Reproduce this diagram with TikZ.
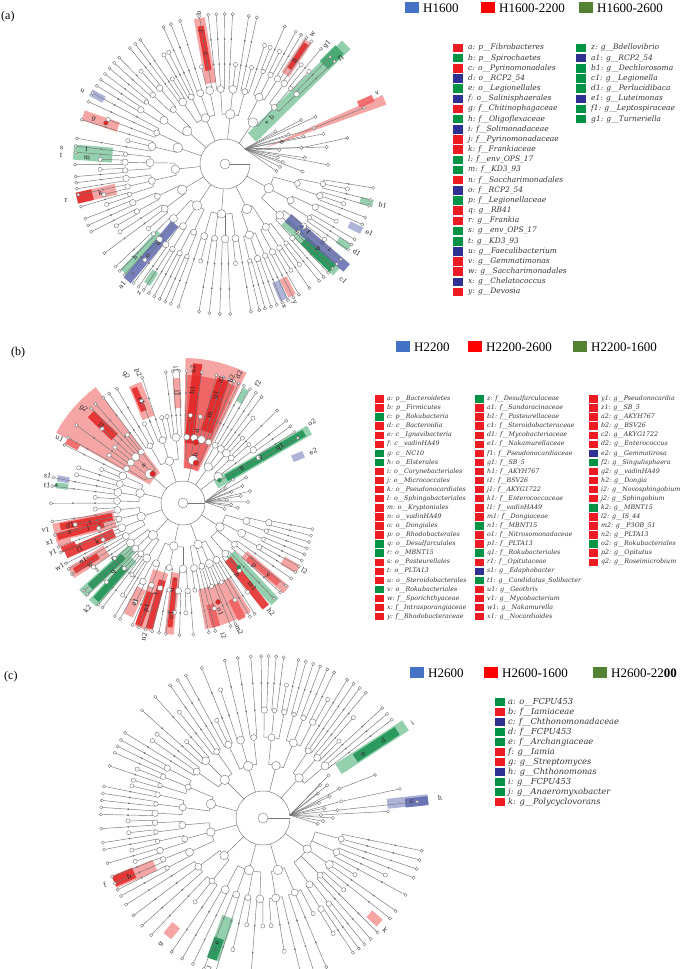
\documentclass[tikz,border=0pt]{standalone}
\usepackage{fontspec}
\setmainfont{Liberation Serif}
\newfontfamily\legf{DejaVu Serif}
\definecolor{brgray}{RGB}{118,118,118}
\definecolor{lred}{RGB}{245,150,150}
\definecolor{mred}{RGB}{240,90,90}
\definecolor{dred}{RGB}{228,35,35}
\definecolor{lgreen}{RGB}{130,200,160}
\definecolor{mgreen}{RGB}{60,165,105}
\definecolor{dgreen}{RGB}{25,145,80}
\definecolor{lblue}{RGB}{160,168,210}
\definecolor{mblue}{RGB}{95,105,175}
\definecolor{sqR}{RGB}{237,28,36}
\definecolor{sqG}{RGB}{0,146,69}
\definecolor{sqB}{RGB}{46,49,146}
\definecolor{hblue}{RGB}{68,114,196}
\definecolor{hred}{RGB}{255,0,0}
\definecolor{hgreen}{RGB}{84,130,53}
\tikzset{
  br/.style={draw=brgray, line width=0.45pt},
  cn/.style={circle, draw=brgray, fill=white, inner sep=0pt, line width=0.4pt},
  cdot/.style={circle, fill=brgray, inner sep=0pt},
  sig/.style={circle, draw=brgray, inner sep=0pt, line width=0.3pt},
  lab/.style={font=\legf\fontsize{6.5}{6.5}\selectfont, inner sep=0pt, text=black!85},
  plab/.style={font=\fontsize{12}{12}\selectfont, inner sep=0pt, anchor=west},
  htext/.style={font=\fontsize{13}{13}\selectfont, inner sep=0pt, anchor=west},
}
% recursive cladogram node: level, angle a, angle b, seed
\newcommand\cnode[4]{%
\begingroup
\pgfmathtruncatemacro\Lv{#1}%
\pgfmathsetmacro\Aa{#2}%
\pgfmathsetmacro\Ab{#3}%
\pgfmathtruncatemacro\Sd{#4}%
\pgfmathsetmacro\Am{(\Aa+\Ab)/2}%
\pgfmathsetmacro\Rr{\Lv*\DR}%
\pgfmathtruncatemacro\Cc{floor((\Ab-\Aa)/\DL)}%
\pgfmathtruncatemacro\Rm{\ML-\Lv}%
\ifnum\Rm<1 \def\Nc{0}%
\else
  \ifnum\Cc<2
    \pgfmathtruncatemacro\Nc{(mod(\Sd,5)==0 && \Lv>2) ? 0 : 1}%
  \else
    \pgfmathtruncatemacro\Nc{max(1,min(\Cc,round(pow(\Cc,1/max(1,\Rm-0.8))*(0.95+0.09*mod(\Sd,10)))))}%
  \fi
\fi
\ifnum\Nc>0
  \pgfmathsetmacro\Cw{(\Ab-\Aa)/\Nc}%
  \pgfmathsetmacro\Rn{\Rr+\DR}%
  \ifnum\Nc>1
    \pgfmathsetmacro\Fa{\Aa+\Cw/2}%
    \pgfmathsetmacro\La{\Ab-\Cw/2}%
    \draw[br] (\Fa:\Rr) arc[start angle=\Fa, end angle=\La, radius=\Rr];%
  \fi
  \foreach \ii in {1,...,\Nc}{%
    \pgfmathsetmacro\Ca{\Aa+(\ii-0.5)*\Cw}%
    \draw[br] (\Ca:\Rr) -- (\Ca:\Rn);%
    \pgfmathsetmacro\Xa{\Aa+(\ii-1)*\Cw}%
    \pgfmathsetmacro\Xb{\Aa+\ii*\Cw}%
    \pgfmathtruncatemacro\Xs{mod(\Sd*13+\ii*29+\Lv*17+7,997)}%
    \pgfmathtruncatemacro\Xl{\Lv+1}%
    \edef\next{\noexpand\cnode{\Xl}{\Xa}{\Xb}{\Xs}}\next
  }%
\fi
\ifnum\Nc=1
  \node[cdot, minimum size=2pt] at (\Am:\Rr) {};%
\else
  \ifnum\Nc=0
    \ifnum\Lv=\ML \def\Cd{3.2}\else\def\Cd{4.2}\fi
  \else
    \pgfmathsetmacro\Cd{max(3.5,10.5-1.5*\Lv+mod(\Sd,3))}%
  \fi
  \node[cn, minimum size=\Cd pt] at (\Am:\Rr) {};%
\fi
\endgroup}
\newcommand\band[5]{\fill[#5,rotate=#1,fill opacity=0.85] (#2,-#4/2) rectangle (#3,#4/2);}
\newcommand\sector[5]{\fill[#5,fill opacity=0.85] (#1:#3) arc[start angle=#1,end angle=#2,radius=#3] -- (#2:#4) arc[start angle=#2,end angle=#1,radius=#4] -- cycle;}
\newcommand\lbl[3]{\pgfmathsetmacro\lrot{cos(#1)<0 ? #1+180 : #1}\node[lab,rotate=\lrot] at (#1:#2) {#3};}
\newcommand\sigdot[3]{\node[sig, fill=#3, minimum size=#2pt] at (#1) {};}
% fan: origin angle, list angle/r/extension
\newcommand\fan[2]{%
  \foreach \fa/\fr/\fe in {#2}{%
    \draw[br] (#1:\DR) -- (\fa:\fr);
    \ifdim\fe pt>\fr pt
      \draw[br] (\fa:\fr) -- (\fa:\fe);
      \node[cn, minimum size=3pt] at (\fa:\fe) {};
    \fi
    \node[cn, minimum size=3.4pt] at (\fa:\fr) {};
  }}
% tree: fan origin angle, phyla list, fan list
\newcommand\tree[3]{%
  \draw[br] (0,0) -- (0:\DR);
  \draw[br] (#1:\DR) arc[start angle=#1, end angle=360, radius=\DR];
  \foreach \pa/\pb/\ps in {#2}{%
    \pgfmathsetmacro\pm{(\pa+\pb)/2}%
    \draw[br] (\pm:\DR) -- (\pm:2*\DR);
    \cnode{2}{\pa}{\pb}{\ps}%
  }
  \fan{#1}{#3}
  \node[cn, minimum size=10pt] (root) at (0,0) {};
}
% legend column: x, ytop, spacing, fontsize, square width, gap, list
\newcommand\legcol[7]{%
  \foreach \c/\t [count=\k from 0] in {#7}{%
    \pgfmathsetmacro\yy{#2-\k*#3}%
    \fill[sq\c] (#1,\yy-#3/2+0.8) rectangle ++(#5,#3-1.6);
    \node[anchor=west, inner sep=0pt, text=black!80, font=\legf\itshape\fontsize{#4}{#4}\selectfont] at (#1+#5+#6,\yy) {\t};
  }}
\newcommand\hdr[4]{\fill[#3] (#1,#2-5.5) rectangle ++(14,11);
  \node[htext] at (#1+18,#2) {#4};}

\begin{document}
\begin{tikzpicture}[x=1pt,y=1pt]
\fill[white] (0,0) rectangle (685,969);
\useasboundingbox (0,0) rectangle (685,969);

%================ PANEL A ================
\node[plab] (pa) at (1,952) {(a)};
\hdr{405}{961}{hblue}{H1600}
\hdr{481}{961}{hred}{H1600-2200}
\hdr{579}{961}{hgreen}{H1600-2600}
\legcol{453}{921}{10.17}{7.5}{10}{5}{R/{a: p\_\_Fibrobacteres}, G/{b: p\_\_Spirochaetes}, R/{c: o\_\_Pyrinomonadales}, B/{d: o\_\_RCP2\_54}, G/{e: o\_\_Legionellales}, B/{f: o\_\_Salinisphaerales}, R/{g: f\_\_Chitinophagaceae}, G/{h: f\_\_Oligoflexaceae}, B/{i: f\_\_Solimonadaceae}, R/{j: f\_\_Pyrinomonadaceae}, R/{k: f\_\_Frankiaceae}, G/{l: f\_\_env\_OPS\_17}, G/{m: f\_\_KD3\_93}, R/{n: f\_\_Saccharimonadales}, B/{o: f\_\_RCP2\_54}, G/{p: f\_\_Legionellaceae}, R/{q: g\_\_RB41}, R/{r: g\_\_Frankia}, G/{s: g\_\_env\_OPS\_17}, G/{t: g\_\_KD3\_93}, B/{u: g\_\_Faecalibacterium}, R/{v: g\_\_Gemmatimonas}, R/{w: g\_\_Saccharimonadales}, B/{x: g\_\_Chelatococcus}, R/{y: g\_\_Devosia}}
\legcol{576}{921}{10.17}{7.5}{10}{5}{G/{z: g\_\_Bdellovibrio}, B/{a1: g\_\_RCP2\_54}, G/{b1: g\_\_Dechlorosoma}, G/{c1: g\_\_Legionella}, G/{d1: g\_\_Perlucidibaca}, B/{e1: g\_\_Luteimonas}, G/{f1: g\_\_Leptospiraceae}, G/{g1: g\_\_Turneriella}}

\begin{scope}[shift={(225,805)}]
\def\DR{25}\def\DL{2.3}\def\ML{6}
\band{100}{82}{148}{11}{lred}
\band{100}{95}{140}{6}{dred}
\band{56}{108}{148}{9}{lred}
\band{56}{115}{145}{5}{dred}
\band{44.5}{38}{170}{12}{lgreen}
\band{45}{140}{162}{12}{mgreen}
\fill[lred,fill opacity=0.85] (22:41) -- (20.2:172) -- (23.6:172) -- cycle;
\band{24}{146}{162}{7}{mred}
\band{152}{137}{152}{7}{lblue}
\band{161}{113}{150}{10}{lred}
\band{175.5}{113}{152}{15}{lgreen}
\band{193}{112}{152}{11}{lred}
\band{193}{136}{152}{11}{dred}
\band{227}{95}{148}{9}{lgreen}
\band{230}{78}{152}{9}{mblue}
\band{237}{128}{143}{7}{lgreen}
\band{293.4}{128}{148}{8}{lblue}
\band{297}{128}{148}{8}{lred}
\band{316}{83}{155}{10}{lgreen}
\band{316}{110}{150}{10}{dgreen}
\band{319.5}{83}{160}{10}{mblue}
\band{326}{136}{150}{7}{lgreen}
\band{334}{138}{152}{7}{lblue}
\band{345}{140}{153}{7}{lgreen}
\tree{37}{42/70/11, 70/98/23, 98/128/37, 128/150/41, 150/172/53, 172/200/61, 200/222/71, 222/250/83, 250/282/97, 282/310/101, 310/352/113}{-8/52/0, -5.5/78/0, -3/55/0, -0.5/103/0, 2/58/0, 4.5/80/0, 7/53/0, 9.5/103/0, 12/78/125, 14.5/56/0, 17/103/0, 19.5/83/0, 22/96/150, 25/70/0, 27.5/102/0, 30/88/0, 33/60/0}
\sigdot{161:126}{4.5}{dred}
\sigdot{320.7:99}{4}{mblue}
\sigdot{321:125}{4}{mblue}
\sigdot{230:143}{3}{mblue}
\sigdot{45:59}{3}{dgreen}
\lbl{100}{153}{q}\lbl{100}{135}{j}\lbl{100}{112}{c}
\lbl{56}{157}{w}\lbl{56}{125}{n}
\lbl{49.5}{157}{g1}\lbl{42.5}{157}{f1}\lbl{45}{66}{b}
\lbl{21}{61}{a}\lbl{25}{168}{v}
\lbl{153}{160}{u}\lbl{161}{139}{g}
\lbl{174}{139}{l}\lbl{177.5}{138}{m}\lbl{174.4}{164}{s}\lbl{177}{164}{t}
\lbl{193}{128}{k}\lbl{192.8}{163}{r}
\lbl{226}{130}{h}\lbl{230}{120}{o}\lbl{230}{104}{d}\lbl{229.7}{159}{a1}
\lbl{236.4}{155}{z}
\lbl{292.6}{154}{x}\lbl{296.5}{155}{y}
\lbl{320.5}{108}{f}\lbl{321}{135}{i}\lbl{316.5}{100}{e}\lbl{317.5}{126}{p}
\lbl{315.5}{166}{c1}\lbl{326}{159}{d1}\lbl{334.5}{160}{e1}\lbl{345.5}{163}{b1}
\end{scope}

%================ PANEL B ================
\node[plab] (pb) at (11,616) {(b)};
\hdr{396}{622}{hblue}{H2200}
\hdr{468}{622}{hred}{H2200-2600}
\hdr{573}{622}{hgreen}{H2200-1600}
\legcol{375}{570}{9.07}{6.3}{9}{3}{R/{a: p\_\_Bacteroidetes}, R/{b: p\_\_Firmicutes}, G/{c: p\_\_Rokubacteria}, R/{d: c\_\_Bacteroidia}, R/{e: c\_\_Ignavibacteria}, R/{f: c\_\_vadinHA49}, G/{g: c\_\_NC10}, G/{h: o\_\_Elsterales}, R/{i: o\_\_Corynebacteriales}, R/{j: o\_\_Micrococcales}, R/{k: o\_\_Pseudonocardiales}, R/{l: o\_\_Sphingobacteriales}, R/{m: o\_\_Kryptoniales}, R/{n: o\_\_vadinHA49}, R/{o: o\_\_Dongiales}, R/{p: o\_\_Rhodobacterales}, G/{q: o\_\_Desulfarculales}, G/{r: o\_\_MBNT15}, R/{s: o\_\_Pasteurellales}, R/{t: o\_\_PLTA13}, R/{u: o\_\_Steroidobacterales}, G/{v: o\_\_Rokubacteriales}, R/{w: f\_\_Sporichthyaceae}, R/{x: f\_\_Intrasporangiaceae}, R/{y: f\_\_Rhodobacteraceae}}
\legcol{475}{570}{9.07}{6.3}{9}{3}{G/{z: f\_\_Desulfarculaceae}, R/{a1: f\_\_Sandaracinaceae}, R/{b1: f\_\_Pasteurellaceae}, R/{c1: f\_\_Steroidobacteraceae}, R/{d1: f\_\_Mycobacteriaceae}, R/{e1: f\_\_Nakamurellaceae}, R/{f1: f\_\_Pseudonocardiaceae}, R/{g1: f\_\_SB\_5}, R/{h1: f\_\_AKYH767}, R/{i1: f\_\_BSV26}, R/{j1: f\_\_AKYG1722}, R/{k1: f\_\_Enterococcaceae}, R/{l1: f\_\_vadinHA49}, R/{m1: f\_\_Dongiaceae}, G/{n1: f\_\_MBNT15}, R/{o1: f\_\_Nitrosomonadaceae}, R/{p1: f\_\_PLTA13}, G/{q1: f\_\_Rokubacteriales}, R/{r1: f\_\_Opitutaceae}, B/{s1: g\_\_Edaphobacter}, G/{t1: g\_\_Candidatus\_Solibacter}, R/{u1: g\_\_Geothrix}, R/{v1: g\_\_Mycobacterium}, R/{w1: g\_\_Nakamurella}, R/{x1: g\_\_Nocardioides}}
\legcol{589}{570}{9.07}{6.3}{9}{3}{R/{y1: g\_\_Pseudonocardia}, R/{z1: g\_\_SB\_5}, R/{a2: g\_\_AKYH767}, R/{b2: g\_\_BSV26}, R/{c2: g\_\_AKYG1722}, R/{d2: g\_\_Enterococcus}, B/{e2: g\_\_Gemmatirosa}, G/{f2: g\_\_Singulisphaera}, R/{g2: g\_\_vadinHA49}, R/{h2: g\_\_Dongia}, R/{i2: g\_\_Novosphingobium}, R/{j2: g\_\_Sphingobium}, G/{k2: g\_\_MBNT15}, R/{l2: g\_\_IS\_44}, R/{m2: g\_\_P3OB\_51}, R/{n2: g\_\_PLTA13}, G/{o2: g\_\_Rokubacteriales}, R/{p2: g\_\_Opitutus}, R/{q2: g\_\_Roseimicrobium}}

\begin{scope}[shift={(183,466)}]
\def\DR{22}\def\DL{2.15}\def\ML{6}
\sector{127}{151}{38}{145}{lred}
\band{136}{95}{128}{9}{dred}
\band{152}{118}{132}{6}{mred}
\sector{64}{89}{35}{145}{lred}
\sector{66}{88}{35}{128}{mred}
\band{84}{60}{140}{9}{dred}
\band{72}{75}{130}{12}{dred}
\band{30}{38}{146}{10}{lgreen}
\band{30}{50}{140}{7}{dgreen}
\band{22}{118}{130}{7}{lblue}
\band{61}{115}{130}{6}{lgreen}
\band{93}{95}{125}{7}{lred}
\band{112}{92}{128}{13}{lred}
\band{113}{100}{125}{6}{dred}
\band{168.8}{116}{128}{6}{lblue}
\band{172}{116}{128}{6}{lgreen}
\band{193}{70}{132}{18}{lred}
\band{191}{72}{125}{7}{dred}
\band{195}{82}{130}{7}{dred}
\band{198}{118}{132}{6}{lred}
\band{201}{115}{130}{6}{dred}
\band{203.5}{75}{128}{9}{dred}
\band{212}{90}{132}{12}{lred}
\band{212}{100}{128}{6}{dred}
\band{222}{65}{135}{10}{lgreen}
\band{222}{80}{125}{7}{dgreen}
\band{228}{75}{135}{10}{lgreen}
\band{228}{88}{130}{7}{dgreen}
\band{244}{95}{125}{10}{lred}
\band{252}{72}{132}{16}{lred}
\band{250}{95}{130}{7}{dred}
\band{255}{80}{130}{7}{dred}
\band{264}{70}{132}{9}{lred}
\band{264}{75}{125}{5}{dred}
\sector{280}{302}{88}{128}{lred}
\band{285}{105}{128}{8}{mred}
\band{297}{108}{130}{8}{mred}
\band{313}{70}{135}{10}{lgreen}
\band{308.5}{72}{133}{8}{dred}
\band{320}{80}{135}{9}{lred}
\band{320}{85}{125}{6}{mred}
\band{330}{115}{133}{9}{lred}
\tree{3}{28/46/7, 46/64/19, 64/90/29, 90/126/43, 126/152/59, 152/182/67, 182/214/79, 214/240/89, 240/276/103, 276/304/109, 304/350/127}{-8/42/0, -5/55/0, -2/48/0, 1/65/0, 4/44/0, 7/58/0, 10/68/0, 13/50/0, 16/62/0, 19/45/0, 22/68/0, 25/55/0}
\sigdot{136:42}{6}{dred}
\sigdot{78:62}{6}{dred}
\sigdot{72:42}{6}{dred}
\sigdot{85:83}{4}{dred}
\sigdot{32:43}{4}{dgreen}
\sigdot{194:86}{4}{dred}
\sigdot{172:128}{3.5}{dgreen}
\sigdot{264:77}{4}{dred}
\sigdot{289.5:105}{5}{dred}
\sigdot{311:85}{4}{dgreen}
\lbl{136.5}{137}{g2}\lbl{136.5}{112}{l1}\lbl{136.5}{54}{a}\lbl{152.5}{139}{u1}
\lbl{85.7}{134}{a2}\lbl{85.4}{113}{h1}\lbl{68.7}{133}{b2}\lbl{73}{129}{z1}\lbl{73}{113}{g1}\lbl{73}{92}{m}\lbl{79}{73}{d}\lbl{76}{50}{b}
\lbl{66.5}{140}{d2}\lbl{58}{141}{f2}
\lbl{32}{152}{o2}\lbl{30}{68}{g}\lbl{30}{90}{v}\lbl{30}{112}{q1}
\lbl{21.6}{140}{e2}
\lbl{93}{134}{i1}\lbl{93}{110}{j1}
\lbl{114}{140}{q2}\lbl{109}{138}{p2}\lbl{112}{110}{r1}
\lbl{168.5}{138}{s1}\lbl{172.5}{137}{t1}
\lbl{191}{115}{d1}\lbl{194.4}{117}{x}\lbl{191.5}{95}{i}\lbl{194.7}{98}{j}\lbl{191}{140}{v1}
\lbl{196.5}{139}{x1}\lbl{201}{139}{y1}\lbl{204}{94}{k}\lbl{204}{113}{f1}
\lbl{209.7}{115}{e1}\lbl{214}{112}{w}\lbl{207.5}{139}{w1}
\lbl{218}{109}{z}\lbl{218.7}{90}{r}\lbl{225}{98}{q}\lbl{228}{143}{k2}
\lbl{244}{110}{a1}
\lbl{253}{95}{t}\lbl{251}{111}{p1}\lbl{253.7}{139}{n2}
\lbl{263}{88}{u}\lbl{264}{113}{c1}
\lbl{289}{115}{o1}\lbl{287}{139}{i2}\lbl{294}{139}{m2}
\lbl{307}{90}{n}\lbl{310}{108}{m1}\lbl{309}{140}{h2}
\lbl{318}{95}{p}\lbl{319}{112}{y}
\lbl{331}{139}{l2}
\end{scope}

%================ PANEL C ================
\node[plab] (pc) at (4,292) {(c)};
\hdr{410}{296}{hblue}{H2600}
\hdr{484}{296}{hred}{H2600-1600}
\hdr{593}{296}{hgreen}{H2600-22\textbf{00}}
\legcol{495}{266.7}{10}{8.3}{10}{3}{G/{a: o\_\_FCPU453}, R/{b: f\_\_Iamiaceae}, B/{c: f\_\_Chthonomonadaceae}, G/{d: f\_\_FCPU453}, G/{e: f\_\_Archangiaceae}, R/{f: g\_\_Iamia}, R/{g: g\_\_Streptomyces}, B/{h: g\_\_Chthonomonas}, G/{i: g\_\_FCPU453}, G/{j: g\_\_Anaeromyxobacter}, R/{k: g\_\_Polycyclovorans}}

\begin{scope}[shift={(263,151)}]
\def\DR{27}\def\DL{2.35}\def\ML{6}
\band{33}{90}{170}{12}{lgreen}
\band{33}{110}{160}{9}{dgreen}
\band{6.5}{125}{166}{10}{lblue}
\band{6}{143}{166}{9}{mblue}
\band{203.5}{118}{162}{12}{lred}
\band{203}{140}{162}{11}{dred}
\band{231}{138}{152}{10}{lred}
\band{250.5}{105}{150}{12}{lgreen}
\band{250}{128}{150}{10}{dgreen}
\band{318}{143}{157}{9}{lred}
\tree{6}{36/60/13, 60/92/31, 92/120/47, 120/150/53, 150/180/71, 180/210/73, 210/238/91, 238/272/107, 272/300/131, 300/350/139}{-6/55/0, -3/60/0, 0/70/0, 3/58/125, 6/75/155, 9/62/0, 12/80/140, 15/58/0, 18/70/0, 21/82/120, 24/60/0, 27/72/0, 30/66/0, 33/78/0}
\sigdot{33:117}{3}{dgreen}
\sigdot{250:140}{3}{dgreen}
\lbl{32.5}{119}{a}\lbl{33}{143}{d}\lbl{32.6}{177}{i}
\lbl{6.2}{150}{c}\lbl{6.5}{178}{h}
\lbl{203.4}{146}{b}\lbl{203}{172}{f}
\lbl{231}{162}{g}
\lbl{250}{133}{e}\lbl{250}{159}{j}
\lbl{317.4}{166}{k}
\end{scope}
\end{tikzpicture}
\end{document}
